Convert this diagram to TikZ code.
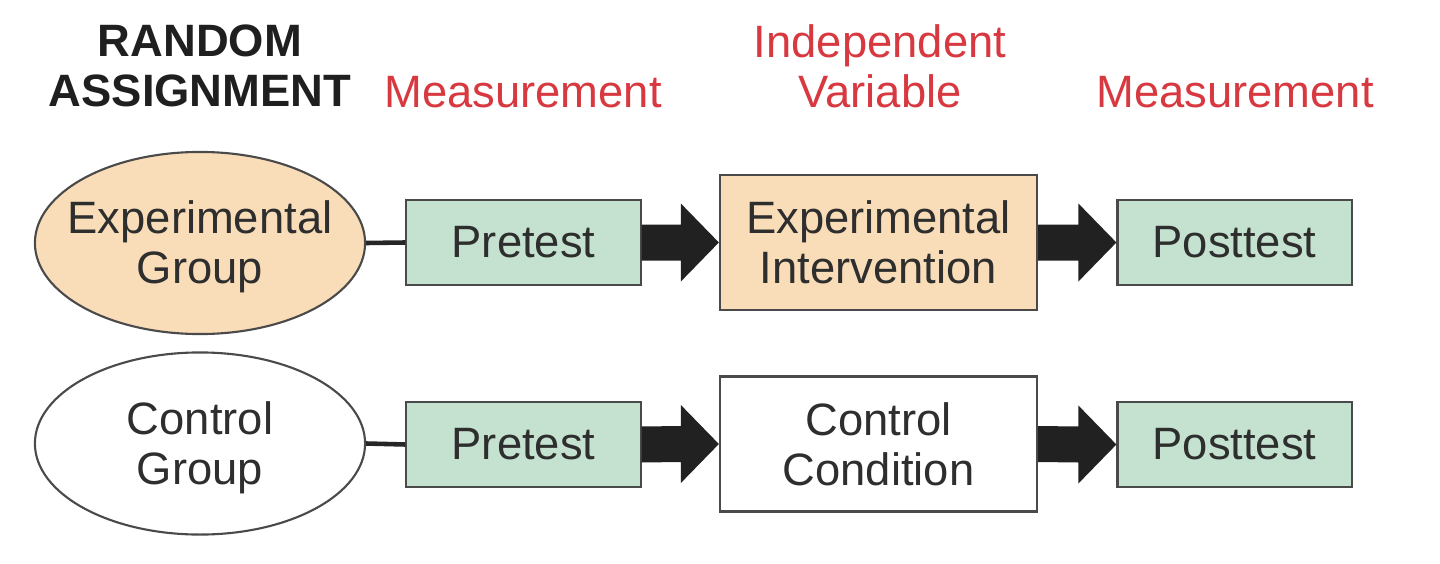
\documentclass[tikz,border=0pt]{standalone}
\usepackage{fontspec}
\setmainfont{Liberation Sans}
\usetikzlibrary{shapes.geometric,calc}
\definecolor{peach}{HTML}{F9DDB8}
\definecolor{mint}{HTML}{C4E2CF}
\definecolor{hdred}{HTML}{D8383F}
\definecolor{txt}{HTML}{2E2E2E}
\definecolor{edge}{HTML}{4A4A4A}
\begin{document}
\begin{tikzpicture}[x=0.01cm,y=-0.01cm,
  every node/.style={font=\fontsize{12.9}{14.2}\selectfont, text=txt, align=center, inner sep=0pt},
  grp/.style={ellipse, draw=edge, line width=0.6pt, minimum width=3.3cm, minimum height=1.82cm},
  testbox/.style={rectangle, draw=edge, line width=0.6pt, fill=mint, minimum width=2.34cm, minimum height=0.85cm},
  condbox/.style={rectangle, draw=edge, line width=0.6pt, minimum width=3.17cm, minimum height=1.35cm},
  hdr/.style={text=hdred},
  link/.style={line width=1.3pt, draw=black!85},
  bigarrow/.style={fill=black!87}
]
\useasboundingbox (0,0) rectangle (1440,564);

% headers
\node[font=\bfseries\fontsize{12.9}{14.2}\selectfont, text=black!88] (ra) at (200,66) {RANDOM\\ASSIGNMENT};
\node[hdr] (m1) at (523,92) {Measurement};
\node[hdr] (iv) at (880,66) {Independent\\Variable};
\node[hdr] (m2) at (1235,92) {Measurement};

% row 1
\node[grp, fill=peach] (eg) at (200,243) {};
\node (egt) at ($(eg.center)+(0,4)$) {Experimental\\Group};
\node[testbox] (pre1) at (523.5,242.5) {Pretest};
\node[condbox, fill=peach] (ei) at (878.5,242.5) {Experimental\\Intervention};
\node[testbox] (post1) at (1234.5,242.5) {Posttest};

% row 2
\node[grp, fill=white] (cg) at (200,443.5) {};
\node (cgt) at ($(cg.center)+(0,4)$) {Control\\Group};
\node[testbox] (pre2) at (523.5,444.5) {Pretest};
\node[condbox, fill=white] (cc) at (878.5,444) {Control\\Condition};
\node[testbox] (post2) at (1234.5,444.5) {Posttest};

% links
\draw[link] (eg.east) -- (pre1.west);
\draw[link] (cg.east) -- (pre2.west);

% big arrows
\foreach \a/\b in {pre1/ei, ei/post1, pre2/cc, cc/post2}{
  \fill[bigarrow] ($(\a.east)+(0,-18)$) -- ($(\b.west)+(-38,-18)$) -- ($(\b.west)+(-38,-39)$)
    -- (\b.west) -- ($(\b.west)+(-38,39)$) -- ($(\b.west)+(-38,18)$) -- ($(\a.east)+(0,18)$) -- cycle;
}
\end{tikzpicture}
\end{document}
